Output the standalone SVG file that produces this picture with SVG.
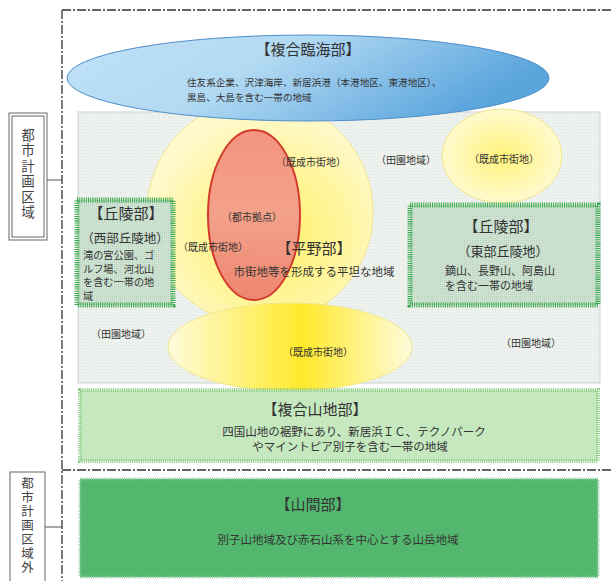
<svg xmlns="http://www.w3.org/2000/svg" width="611" height="581" viewBox="0 0 611 581">
<style>
text{font-family:"Noto Sans CJK JP","Noto Sans",sans-serif;fill:#333}
.s10{font-size:10px}
.s11{font-size:11.5px}
.t15{font-size:15px}
.mid{text-anchor:middle}
.frame{fill:none;stroke:#333;stroke-width:1.3;stroke-dasharray:9 2 2 2}
.lbl{fill:#fff;stroke:#666;stroke-width:1}
.vt{writing-mode:vertical-rl;fill:#444}
.hill{fill:url(#dots);stroke:#3aa84c;stroke-width:5;stroke-dasharray:1.1 1.1}
.wb{font-size:10.2px}
</style>
<defs>
<pattern id="grid" width="3" height="3" patternUnits="userSpaceOnUse">
<rect width="3" height="3" fill="#edf2ee"/>
<rect width="1" height="1" fill="#dde5de"/>
</pattern>
<pattern id="dots" width="2" height="2" patternUnits="userSpaceOnUse">
<rect width="2" height="2" fill="#cfe3d3"/>
<rect width="1" height="1" fill="#b9d2bf"/>
</pattern>
<linearGradient id="blue" x1="0" y1="0" x2="1" y2="0.3">
<stop offset="0" stop-color="#bfe1f7"/>
<stop offset="0.45" stop-color="#b3daf3"/>
<stop offset="1" stop-color="#5ba5dd"/>
</linearGradient>
<radialGradient id="yel" cx="0.55" cy="0.6" r="0.55">
<stop offset="0" stop-color="#fff06a"/>
<stop offset="0.6" stop-color="#fff59e"/>
<stop offset="1" stop-color="#fff9cc"/>
</radialGradient>
<radialGradient id="yel2" cx="0.5" cy="0.5" r="0.55">
<stop offset="0" stop-color="#fff27a"/>
<stop offset="1" stop-color="#fffbd6"/>
</radialGradient>
<linearGradient id="yel3" x1="0" y1="0" x2="1" y2="0">
<stop offset="0" stop-color="#fffbdc"/>
<stop offset="0.55" stop-color="#ffe92a"/>
<stop offset="1" stop-color="#fffbdc"/>
</linearGradient>
<linearGradient id="red" x1="0" y1="0" x2="0" y2="1">
<stop offset="0" stop-color="#f39480"/>
<stop offset="0.5" stop-color="#f3a18a"/>
<stop offset="1" stop-color="#ee8670"/>
</linearGradient>
</defs>

<g id="frame">
<line class="frame" x1="62" y1="10" x2="611" y2="10"/>
<line class="frame" x1="62" y1="10" x2="62" y2="581"/>
<line class="frame" x1="62" y1="470" x2="611" y2="470"/>
</g>

<g id="connectors">
<line x1="47" y1="180" x2="62" y2="180" stroke="#555" stroke-width="1"/>
<line x1="45" y1="527" x2="62" y2="527" stroke="#555" stroke-width="1"/>
</g>

<g id="label-toshikeikaku">
<rect class="lbl" x="9" y="113" width="38" height="127"/>
<rect class="lbl" x="12" y="116" width="32" height="121"/>
<text class="vt" x="28" y="128" style="font-size:13.5px;letter-spacing:2px">都市計画区域</text>
</g>

<g id="label-toshikeikaku-gai">
<rect class="lbl" x="10" y="472" width="35" height="115"/>
<text class="vt" x="27.5" y="476.5" style="font-size:12.5px;letter-spacing:1.5px">都市計画区域外</text>
</g>

<g id="heiya-area">
<rect x="78" y="112" width="522" height="271" fill="url(#grid)" stroke="#c9d2ca" stroke-width="1"/>
</g>

<g id="kisei-main">
<circle cx="260" cy="212" r="113" fill="url(#yel)" stroke="#f1e68c" stroke-width="1"/>
</g>
<g id="kisei-ne">
<ellipse cx="502" cy="156" rx="60" ry="47" fill="url(#yel2)" stroke="#f1e68c" stroke-width="1"/>
</g>
<g id="kisei-south">
<ellipse cx="290" cy="347" rx="122" ry="44" fill="url(#yel3)" stroke="#f1e68c" stroke-width="1"/>
</g>

<g id="toshi-kyoten">
<ellipse cx="254" cy="215" rx="46" ry="85" fill="url(#red)" stroke="#d23b2b" stroke-width="2"/>
<text class="s10 mid" x="252" y="221">（都市拠点）</text>
</g>

<g id="fukugo-rinkai">
<ellipse cx="308" cy="78" rx="241" ry="43" fill="url(#blue)" stroke="#4f8fc9" stroke-width="1"/>
<text class="t15 mid" x="308" y="55">【複合臨海部】</text>
<text style="font-size:9.6px" x="187" y="86">住友系企業、沢津海岸、新居浜港（本港地区、東港地区）、<tspan x="187" dy="15">黒島、大島を含む一帯の地域</tspan></text>
</g>

<g id="heiya-labels">
<text class="s10 mid" x="311" y="166">（既成市街地）</text>
<text class="s10 mid" x="406" y="164">（田園地域）</text>
<text class="s10 mid" x="504" y="163">（既成市街地）</text>
<text class="s10 mid" x="213" y="251">（既成市街地）</text>
<text class="t15 mid" x="314" y="254">【平野部】</text>
<text class="s11 mid" x="314" y="276">市街地等を形成する平坦な地域</text>
<text class="s10 mid" x="121" y="338">（田園地域）</text>
<text class="s10 mid" x="531" y="347">（田園地域）</text>
<text class="s10 mid" x="318" y="356">（既成市街地）</text>
</g>

<g id="kyuryo-west">
<rect class="hill" x="77" y="200" width="96" height="105"/>
<text class="t15 mid" x="126" y="219">【丘陵部】</text>
<text class="mid" style="font-size:12.5px" x="125" y="243">（西部丘陵地）</text>
<text class="wb" x="83" y="259">滝の宮公園、ゴ<tspan x="83" dy="13.5">ルフ場、河北山</tspan><tspan x="83" dy="13.5">を含む一帯の地</tspan><tspan x="83" dy="13.5">域</tspan></text>
</g>

<g id="kyuryo-east">
<rect class="hill" x="410" y="205" width="188" height="100"/>
<text class="t15 mid" x="501" y="232">【丘陵部】</text>
<text class="mid" style="font-size:13px" x="503" y="256">（東部丘陵地）</text>
<text style="font-size:11px" x="445" y="275">鏑山、長野山、阿島山<tspan x="445" dy="14.5">を含む一帯の地域</tspan></text>
</g>

<g id="fukugo-sanchi">
<rect x="80" y="390" width="518" height="71" fill="#c6e8bf" stroke="#8fcf8a" stroke-width="4" stroke-dasharray="1.1 1.1"/>
<text class="t15 mid" x="315" y="415">【複合山地部】</text>
<text class="s11 mid" x="354" y="436">四国山地の裾野にあり、新居浜ＩＣ、テクノパーク<tspan x="350" dy="15">やマイントピア別子を含む一帯の地域</tspan></text>
</g>

<g id="sankanbu">
<rect x="80" y="479" width="518" height="98" fill="#53b86e" stroke="#7fc893" stroke-width="3" stroke-dasharray="1 1.2"/>
<text class="t15 mid" x="313" y="510">【山間部】</text>
<text class="s11 mid" x="338" y="544">別子山地域及び赤石山系を中心とする山岳地域</text>
</g>
</svg>
